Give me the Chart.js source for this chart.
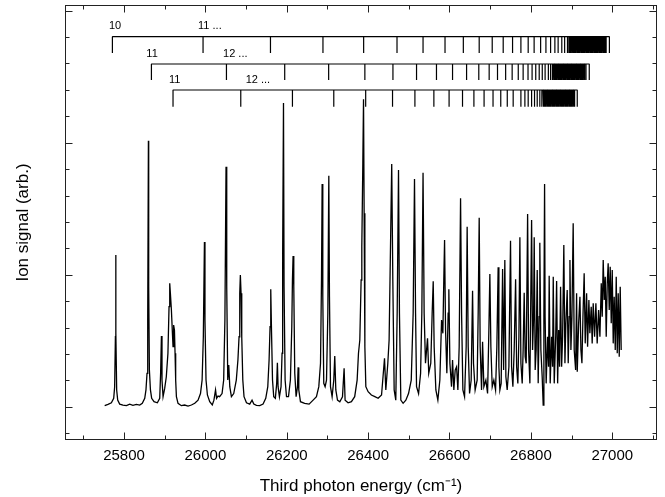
<!DOCTYPE html>
<html><head><meta charset="utf-8">
<script src="https://cdn.jsdelivr.net/npm/chart.js@4.4.1/dist/chart.umd.min.js"></script>
<style>html,body{margin:0;padding:0;background:#fff}#c{display:block}</style>
</head><body>
<canvas id="c" width="665" height="497"></canvas>
<script>
// ---- Spectrum: third photon energy (cm-1) and ion signal (arb.) ----
const energy = [
25752.5,25760.7,25769,25774.7,25777,25778.9,25779.6,25780.3,25782,25784.5,25789.4,25797.5,25806,25814,25822,25830.5,25838.6,25845,25851,25854,
25856.6,25858.3,25860,25860.7,25862.4,25865,25868,25873.8,25882,25887.8,25890,25892,25893.4,25896,25900,25904,25908,25910.7,25912.4,25914,
25916.5,25919,25920.5,25922,25924,25925.5,25927,25928.8,25932.8,25941,25949,25957.4,25965.7,25973.9,25982,25988,25992,25995,25997.7,25999,
26001.6,26005,26010.7,26017,26021,26025,26027.5,26031,26035,26041,26045,26048,26050.8,26052.5,26055,26057.5,26060,26064,26069.7,26076,
26080,26082.8,26084.5,26086,26087.7,26089.4,26092,26095,26101,26109,26114.7,26119,26125.6,26133.7,26141.8,26148.4,26153.4,26156.6,26159,26160.7,
26162.5,26165,26168,26172,26175.3,26177,26178.7,26182,26186,26188.5,26190,26192,26193.4,26196,26199.4,26204.3,26209,26212.4,26214,26215.6,
26217.3,26219.7,26223,26226.4,26228,26229.6,26233.7,26244,26255,26264.8,26273,26278.8,26283,26285.4,26287,26288.6,26291,26294.3,26297.7,26301,
26303.4,26305,26307.5,26311.5,26315.6,26318,26320.6,26324.7,26330.4,26337,26341,26343.4,26350.8,26359,26367,26373,26376.3,26379.6,26382.8,26384.5,
26387,26388.7,26390.2,26392,26394.4,26400,26408,26416.5,26424.6,26433,26440.3,26443.5,26448.4,26451.6,26455,26458,26460.7,26464,26468,26471.4,
26474.7,26477,26480.4,26486,26492.7,26499.3,26506,26510.7,26514,26516.6,26519,26524,26529,26532,26535,26537.7,26541,26546,26549,26554,
26557.4,26560,26562.3,26566.5,26571.4,26576.3,26580.5,26583.7,26586,26587.9,26590.3,26593.5,26596.7,26598.4,26601,26605,26607.5,26610.7,26614,26617.4,
26620.6,26623.8,26627.2,26629.7,26632.9,26637,26641,26643.4,26646,26649.3,26653.3,26656.7,26659,26663,26668,26670.5,26673,26675.4,26678.8,26681.3,
26684.5,26689.4,26693.6,26696.8,26699.2,26701.7,26705,26709,26713.2,26716.4,26719.6,26721.4,26723.8,26727,26730.5,26733,26736,26738.6,26741.8,26746,
26750,26752.6,26755.8,26759,26762.5,26765,26768,26770.6,26773,26775.5,26778.7,26781,26783.6,26786,26788.5,26792,26794.4,26797.6,26801.8,26804.2,
26806.7,26808.2,26810.6,26813,26815.6,26818,26820.5,26822,26824.6,26827.8,26830.3,26832,26833.7,26835,26837.6,26841,26843.5,26845,26847.5,26851,
26853.4,26855,26857.4,26861,26863.3,26865.8,26868.3,26870.6,26873,26875.6,26878,26881,26883.7,26886,26889.3,26891.8,26894.2,26896,26898.4,26900.9,
26904,26906.5,26910,26912.4,26914,26917.4,26920.6,26923,26925.5,26928,26931,26933.6,26937,26939.4,26942.6,26945,26948.3,26950.7,26953.2,26956.6,
26959.8,26963,26966.5,26969.7,26973,26975.4,26977.8,26980.3,26982.8,26985.2,26987.7,26990,26992.6,26995,26997.5,27000,27002.4,27004.8,27007.4,27009.8,
27012.3,27014.7,27017.2,27019.6,27022
];
const signal = [
0.008,0.018,0.03,0.064,0.15,0.53,1.15,0.56,0.127,0.05,0.02,0.013,0.008,0.02,0.011,0.018,0.013,0.026,0.064,0.127,
0.253,0.657,2.015,0.909,0.278,0.127,0.064,0.038,0.03,0.064,0.253,0.536,0.202,0.076,0.139,0.227,0.405,0.758,0.935,0.859,
0.733,0.556,0.455,0.619,0.581,0.405,0.202,0.076,0.026,0.008,0.013,0.005,0.013,0.026,0.05,0.1,0.202,0.53,1.248,0.657,
0.202,0.089,0.038,0.013,0.05,0.127,0.064,0.081,0.076,0.1,0.202,0.657,1.818,0.909,0.202,0.316,0.152,0.076,0.1,0.202,
0.354,0.53,0.859,0.998,0.859,0.53,0.202,0.076,0.03,0.02,0.05,0.02,0.011,0.008,0.02,0.064,0.152,0.354,0.606,0.889,
0.581,0.202,0.076,0.064,0.177,0.333,0.152,0.076,0.152,0.405,1.162,2.3,0.909,0.202,0.076,0.076,0.202,0.606,0.96,1.142,
0.909,0.253,0.076,0.152,0.298,0.127,0.038,0.026,0.02,0.05,0.076,0.152,0.329,0.96,1.687,0.833,0.177,0.152,0.202,0.708,
1.75,0.833,0.152,0.076,0.202,0.384,0.127,0.05,0.038,0.076,0.291,0.05,0.03,0.038,0.076,0.202,0.405,0.505,0.96,1.212,
1.844,2.329,1.465,0.455,0.152,0.114,0.089,0.076,0.064,0.089,0.367,0.127,0.329,0.505,1.212,1.839,0.96,0.127,0.05,0.708,
1.793,0.708,0.05,0.026,0.05,0.1,0.202,0.708,1.725,0.708,0.152,0.1,0.253,0.708,1.773,0.708,0.329,0.518,0.253,0.329,
0.708,0.95,0.455,0.127,0.05,0.202,0.657,0.556,0.96,1.263,0.581,0.253,0.708,0.889,0.329,0.152,0.354,0.127,0.278,0.303,
0.127,0.455,1.579,0.708,0.127,0.076,0.455,1.364,0.455,0.1,0.202,0.879,0.329,0.127,0.202,0.708,1.432,0.455,0.127,0.492,
0.152,0.202,0.1,0.581,1.005,0.455,0.152,0.202,0.127,0.455,1.056,0.303,0.127,0.177,1.043,0.278,1.111,0.227,0.127,0.303,
1.258,0.303,0.152,0.43,0.965,0.303,0.177,0.53,1.283,0.329,0.177,0.43,0.864,0.379,0.329,1.46,0.43,0.177,1.414,0.43,
0.682,1.283,0.278,0.43,1.036,0.177,0.682,1.242,0.43,0.227,0.013,0.682,1.687,0.682,0.177,0.53,0.303,0.992,0.177,0.53,
0.303,0.985,0.177,0.53,0.952,0.177,0.581,0.303,0.909,0.303,0.53,1.225,0.329,0.632,0.884,0.329,0.682,1.111,0.43,0.682,
1.389,0.43,0.278,0.859,0.265,0.632,0.833,0.43,0.329,0.682,1.011,0.48,0.859,0.455,0.808,0.556,0.758,0.48,0.783,0.53,
0.783,0.48,0.733,0.53,0.935,0.682,1.111,0.808,0.985,0.53,0.935,1.086,0.733,1.061,0.632,1.036,0.48,0.833,0.43,0.985,
0.405,0.859,0.379,0.909,0.43
];

// ---- Rydberg series level positions (cm-1), one ladder per series ----
const seriesTop = [25771.5,25994.3,26160,26289,26389,26471,26535,26589,26634,26673,26705,26732,26755,26775.5,26793.4,26808,26824,26837,26848.5,26859,26867,26876,26883,26890,
  26893.5,26895.5,26897.5,26899.5,26901.5,26903.5,26905.5,26907.5,26909.5,26911.5,26913.5,26915.5,26917.5,26919.5,26921.5,26923.5,26925.5,26927.5,26929.5,26931.5,
  26933.5,26935.5,26937.5,26939.5,26941.5,26943.5,26945.5,26947.5,26949.5,26951.5,26953.5,26955.5,26957.5,26959.5,26961.5,26963.5,26965.5,26967.5,26969.5,26971.5,
  26973.5,26975.5,26977.5,26979.5,26981.5,26983.5,26985];
const limitTop = 26993;
const seriesMid = [25867.4,26051.8,26195,26303,26392,26461,26519,26568,26607.5,26642,26672,26697.5,26718,26738,26754,26769,26781,26793,26803,26812,26820.5,26828,26835,26843,26848.5,
  26853,26855,26857,26859,26861,26863,26865,26867,26869,26871,26873,26875,26877,26879,26881,26883,26885,26887,26889,26891,26893,26895,26897,26899,26901,26903,
  26905,26907,26909,26911,26913,26915,26917,26919,26921,26923,26925,26927,26929,26931,26933,26935.5];
const limitMid = 26943.5;
const seriesLow = [25920.5,26087,26214,26315.6,26394,26460,26515,26561.6,26599,26632,26660,26685,26707,26726,26742,26756.5,26775.5,26785.3,26793.4,26801.8,26809,26815.6,26822,26827,
  26830,26832,26834,26836,26838,26840,26842,26844,26846,26848,26850,26852,26854,26856,26858,26860,26862,26864,26866,26868,26870,26872,26874,26876,26878,26880,
  26882,26884,26886,26888,26890,26892,26894,26896,26898,26900,26902,26904,26906,26907.5];
const limitLow = 26914;

// ---- Ladder labels (principal quantum numbers) ----
const labelTexts    = ['10', '11 ...', '11', '12 ...', '11', '12 ...'];
const labelEnergies = [25763, 25982, 25855, 26043.4, 25910.7, 26099];
const labelRows     = [0, 0, 1, 1, 2, 2];

// ---- axis ticks ----
const xMin = 25655, xMax = 27110, xMinorStep = 100, xLabelStep = 200;
const yMin = -0.252, yMax = 3.043, yMinorStep = 0.2;

// layout of the ladders (in signal units)
const ladderRows = [
  {line: 2.803, tick: 2.680, text: 2.859},
  {line: 2.596, tick: 2.475, text: 2.652},
  {line: 2.399, tick: 2.273, text: 2.450}
];

const FONT = '"Liberation Sans", Arial, Helvetica, sans-serif';
Chart.defaults.font.family = FONT;
Chart.defaults.color = '#000';

function ladderPoints(levels, limit, row) {
  const pts = [];
  levels.concat([limit]).forEach(e => {
    pts.push({x: e, y: row.line}, {x: e, y: row.tick}, {x: e, y: row.line});
  });
  return pts;
}
const ladderStyle = {borderColor: '#000', borderWidth: 1.2, pointRadius: 0, tension: 0,
  borderJoinStyle: 'bevel', borderCapStyle: 'butt', fill: false};

const spectrum = energy.map((e, i) => ({x: e, y: signal[i]}));

const frameTicks = {
  id: 'frameTicks',
  afterDatasetsDraw(chart) {
    const {ctx, chartArea: a, scales: {x, y}} = chart;
    ctx.save();
    ctx.strokeStyle = '#222';
    ctx.lineWidth = 1;
    const L = Math.round(a.left) + 0.5, R = Math.round(a.right) - 0.5;
    const T = Math.round(a.top) + 0.5, B = Math.round(a.bottom) - 0.5;
    ctx.strokeRect(L, T, R - L, B - T);
    ctx.beginPath();
    x.ticks.forEach(t => {
      const px = Math.round(x.getPixelForValue(t.value)) + 0.5;
      const len = (Math.round(t.value) % xLabelStep === 0) ? 7 : 4;
      ctx.moveTo(px, B); ctx.lineTo(px, B - len);
      ctx.moveTo(px, T); ctx.lineTo(px, T + len);
    });
    y.ticks.forEach(t => {
      const py = Math.round(y.getPixelForValue(t.value)) + 0.5;
      const major = Math.abs(t.value - Math.round(t.value)) < 1e-6;
      const len = major ? 7 : 4;
      ctx.moveTo(L, py); ctx.lineTo(L + len, py);
      ctx.moveTo(R, py); ctx.lineTo(R - len, py);
    });
    ctx.stroke();
    ctx.restore();
  }
};

const ladderLabels = {
  id: 'ladderLabels',
  afterDatasetsDraw(chart) {
    const {ctx, scales: {x, y}} = chart;
    ctx.save();
    ctx.fillStyle = '#000';
    ctx.font = '11px ' + FONT;
    ctx.textAlign = 'left';
    ctx.textBaseline = 'alphabetic';
    labelTexts.forEach((t, i) => {
      ctx.fillText(t, x.getPixelForValue(labelEnergies[i]), y.getPixelForValue(ladderRows[labelRows[i]].text));
    });
    ctx.restore();
  }
};

new Chart(document.getElementById('c'), {
  type: 'line',
  data: {
    datasets: [
      Object.assign({label: 'series A', data: ladderPoints(seriesTop, limitTop, ladderRows[0])}, ladderStyle),
      Object.assign({label: 'series B', data: ladderPoints(seriesMid, limitMid, ladderRows[1])}, ladderStyle),
      Object.assign({label: 'series C', data: ladderPoints(seriesLow, limitLow, ladderRows[2])}, ladderStyle),
      {label: 'Ion signal', data: spectrum, borderColor: '#000', borderWidth: 1.3, pointRadius: 0,
       tension: 0, fill: false, borderJoinStyle: 'miter'}
    ]
  },
  plugins: [frameTicks, ladderLabels],
  options: {
    responsive: false,
    animation: false,
    events: [],
    layout: {padding: {top: 5, right: 8, left: 0, bottom: 0}},
    plugins: {legend: {display: false}, tooltip: {enabled: false}},
    scales: {
      x: {
        type: 'linear', position: 'bottom', min: xMin, max: xMax,
        grid: {display: false, drawTicks: false},
        border: {display: false},
        ticks: {stepSize: xMinorStep, includeBounds: false, autoSkip: false, maxTicksLimit: 100,
          maxRotation: 0, padding: 7, font: {size: 15}, color: '#000',
          callback: v => (Math.round(v) % xLabelStep === 0 ? String(Math.round(v)) : '')},
        title: {display: true, text: 'Third photon energy (cm\u207B\u00B9)', font: {size: 17}, color: '#000',
          padding: {top: 0, bottom: 0}},
        afterFit: s => { s.height = 57; }
      },
      y: {
        type: 'linear', position: 'left', min: yMin, max: yMax,
        grid: {display: false, drawTicks: false},
        border: {display: false},
        ticks: {display: false, stepSize: yMinorStep, includeBounds: false, maxTicksLimit: 100},
        title: {display: true, text: 'Ion signal (arb.)', font: {size: 17}, color: '#000',
          padding: {top: 13, bottom: 0}},
        afterFit: s => { s.width = 65; }
      }
    }
  }
});
</script>
</body></html>
